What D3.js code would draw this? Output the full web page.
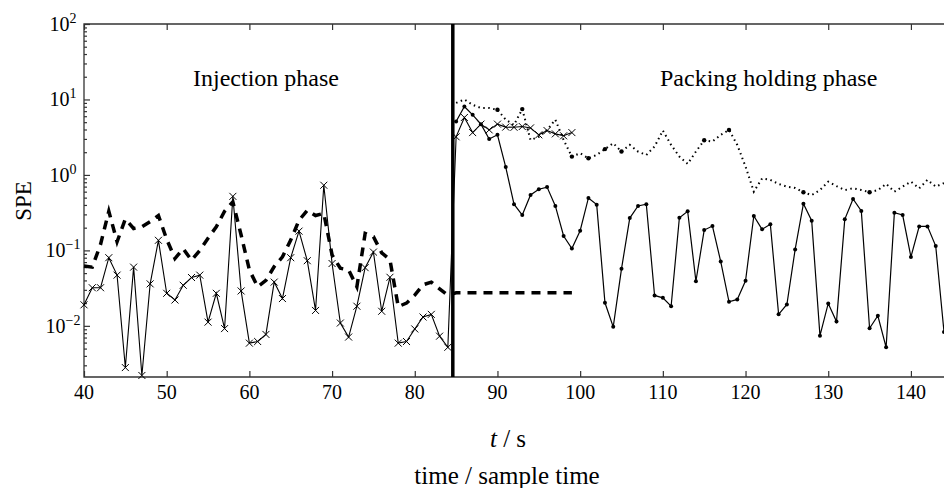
<!DOCTYPE html>
<html>
<head>
<meta charset="utf-8">
<script src="https://cdn.jsdelivr.net/npm/d3@7"></script>
<style>
  body { margin: 0; background: #fff; }
  svg text { font-family: "Liberation Serif", "Times New Roman", serif; fill: #000; }
</style>
</head>
<body>
<svg id="chart" width="944" height="488"></svg>
<script>
// sample times
let packTimes = d3.range(85, 145);
let crossTimes = d3.range(40, 100);
let dashTimes = d3.range(40, 100);

// SPE with x markers (injection phase + start of packing)
let speCross = [0.019, 0.032, 0.032, 0.080, 0.047, 0.0028, 0.060, 0.0022, 0.036, 0.136,
  0.027, 0.022, 0.0345, 0.0437, 0.047, 0.0112, 0.027, 0.0092, 0.52, 0.029,
  0.0059, 0.0062, 0.0077, 0.038, 0.023, 0.080, 0.18, 0.073, 0.016, 0.73,
  0.067, 0.0109, 0.0071, 0.0182, 0.059, 0.095, 0.0156, 0.044, 0.0059, 0.0062,
  0.0091, 0.0131, 0.0142, 0.0073, 0.0052,
  3.2, 5.77, 3.64, 4.71, 3.95, 4.71, 4.3, 4.28, 4.38, 4.2, 3.4, 3.87, 3.5, 3.3, 3.64];

// control limit (thick dashed)
let limitDashed = [0.062, 0.060, 0.12, 0.33, 0.13, 0.26, 0.195, 0.205, 0.24, 0.29,
  0.14, 0.078, 0.105, 0.074, 0.10, 0.145, 0.205, 0.33, 0.44, 0.16,
  0.055, 0.033, 0.04, 0.061, 0.082, 0.137, 0.25, 0.34, 0.29, 0.31,
  0.087, 0.058, 0.055, 0.033, 0.168, 0.152, 0.093, 0.075, 0.018, 0.020,
  0.0255, 0.035, 0.038, 0.031, 0.0255,
  0.0274, 0.0274, 0.0274, 0.0274, 0.0274, 0.0274, 0.0274, 0.0274, 0.0274, 0.0274,
  0.0274, 0.0274, 0.0274, 0.0274, 0.0274];

// SPE with dot markers (packing holding phase)
let speDots = [5.1, 8.06, 6.25, 4.71, 3.0, 3.4, 1.27, 0.41, 0.294, 0.543,
  0.646, 0.69, 0.388, 0.155, 0.106, 0.182, 0.495, 0.404, 0.0202, 0.0097,
  0.057, 0.268, 0.388, 0.41, 0.0253, 0.0235, 0.0182, 0.271, 0.33, 0.039,
  0.186, 0.21, 0.071, 0.0208, 0.0224, 0.0396, 0.286, 0.19, 0.222, 0.0142,
  0.0192, 0.103, 0.416, 0.247, 0.0074, 0.0198, 0.0114, 0.258, 0.48, 0.333,
  0.0093, 0.0136, 0.0052, 0.316, 0.294, 0.082, 0.208, 0.208, 0.114, 0.0083];

// control limit (dotted) for packing holding phase
let limitDotted = [9.0, 10.0, 8.5, 7.7, 7.7, 7.3, 5.4, 4.6, 7.45, 2.9,
  3.2, 3.95, 5.4, 2.9, 1.75, 1.94, 1.66, 1.84, 2.2, 2.63,
  2.04, 2.5, 2.04, 1.84, 2.38, 3.87, 2.5, 1.75, 1.4, 2.04,
  2.88, 2.77, 3.4, 3.95, 2.5, 1.29, 0.6, 0.9, 0.86, 0.76,
  0.7, 0.67, 0.59, 0.54, 0.63, 0.815, 0.71, 0.63, 0.665, 0.63,
  0.59, 0.63, 0.76, 0.6, 0.7, 0.815, 0.665, 0.86, 0.7, 0.78];
let dottedMarkTimes = [90, 93, 99, 101, 103, 105, 115, 118, 127, 135];

let phaseSwitch = 84.6;
let xTicks = [40, 50, 60, 70, 80, 90, 100, 110, 120, 130, 140];
let yTickExp = [2, 1, 0, -1, -2];

let svg = d3.select('#chart');
let width = 944, height = 488;
let mLeft = 84, mTop = 24, mBottom = 377;

let x = d3.scaleLinear().domain([40, 144]).range([mLeft, width]);
let y = d3.scaleLog().domain([0.0021, 100]).range([mBottom, mTop]);

svg.append('rect').attr('width', width).attr('height', height).attr('fill', '#fff');

// minor y ticks
let minorVals = [];
[-3, -2, -1, 0, 1].forEach((e) => {
  for (let m = 2; m <= 9; m++) {
    let v = m * Math.pow(10, e);
    if (v >= 0.0021 && v <= 100) minorVals.push(v);
  }
});

svg.append('g')
  .attr('transform', 'translate(' + mLeft + ',0)')
  .call(d3.axisLeft(y).tickValues(minorVals).tickSize(-3).tickFormat(''))
  .call((g) => g.select('.domain').remove());

svg.append('g')
  .attr('transform', 'translate(' + mLeft + ',0)')
  .call(d3.axisLeft(y).tickValues(yTickExp.map((e) => Math.pow(10, e))).tickSize(-6).tickFormat(''))
  .call((g) => g.select('.domain').remove());

// x ticks bottom and top, pointing inward
svg.append('g')
  .attr('transform', 'translate(0,' + mBottom + ')')
  .call(d3.axisBottom(x).tickValues(xTicks).tickSize(-6).tickFormat(''))
  .call((g) => g.select('.domain').remove());

svg.append('g')
  .attr('transform', 'translate(0,' + mTop + ')')
  .call(d3.axisTop(x).tickValues(xTicks).tickSize(-6).tickFormat(''))
  .call((g) => g.select('.domain').remove());

svg.selectAll('.tick line').attr('stroke', '#333').attr('stroke-width', 1.2);

// frame
svg.append('path')
  .attr('d', 'M' + width + ',' + mTop + 'H' + mLeft + 'V' + mBottom + 'H' + width)
  .attr('fill', 'none')
  .attr('stroke', '#333')
  .attr('stroke-width', 1.3);

// tick labels
svg.append('g')
  .selectAll('text')
  .data(xTicks)
  .enter()
  .append('text')
  .attr('x', (d) => x(d))
  .attr('y', mBottom + 22)
  .attr('text-anchor', 'middle')
  .attr('font-size', 20)
  .text((d) => d);

let yLab = svg.append('g')
  .selectAll('text')
  .data(yTickExp)
  .enter()
  .append('text')
  .attr('x', 63)
  .attr('y', (d) => y(Math.pow(10, d)) + 7)
  .attr('text-anchor', 'middle')
  .attr('font-size', 20);
yLab.append('tspan').text('10');
yLab.append('tspan')
  .attr('font-size', 14)
  .attr('dy', -8)
  .text((d) => (d < 0 ? '\u2212' + (-d) : d));

let plot = svg.append('g');

let lineGen = (times) => d3.line()
  .x((d, i) => x(times[i]))
  .y((d) => y(d));

// thick dashed limit
plot.append('path')
  .datum(limitDashed)
  .attr('d', lineGen(dashTimes))
  .attr('fill', 'none')
  .attr('stroke', '#000')
  .attr('stroke-width', 3.5)
  .attr('stroke-dasharray', '9,7');

// dotted limit
plot.append('path')
  .datum(limitDotted)
  .attr('d', lineGen(packTimes))
  .attr('fill', 'none')
  .attr('stroke', '#000')
  .attr('stroke-width', 2)
  .attr('stroke-dasharray', '1.5,3.5');

plot.selectAll('.dotmark')
  .data(dottedMarkTimes)
  .enter()
  .append('circle')
  .attr('cx', (t) => x(t))
  .attr('cy', (t) => y(limitDotted[packTimes.indexOf(t)]))
  .attr('r', 2.2)
  .attr('fill', '#000');

// SPE with dots
plot.append('path')
  .datum(speDots)
  .attr('d', lineGen(packTimes))
  .attr('fill', 'none')
  .attr('stroke', '#000')
  .attr('stroke-width', 1.2);

plot.selectAll('.spedot')
  .data(speDots)
  .enter()
  .append('circle')
  .attr('cx', (d, i) => x(packTimes[i]))
  .attr('cy', (d) => y(d))
  .attr('r', 2)
  .attr('fill', '#000');

// SPE with crosses
plot.append('path')
  .datum(speCross)
  .attr('d', lineGen(crossTimes))
  .attr('fill', 'none')
  .attr('stroke', '#000')
  .attr('stroke-width', 1.1);

plot.selectAll('.cross')
  .data(speCross)
  .enter()
  .append('path')
  .attr('transform', (d, i) => 'translate(' + x(crossTimes[i]) + ',' + y(d) + ')')
  .attr('d', 'M-3.5,-3.5L3.5,3.5M-3.5,3.5L3.5,-3.5')
  .attr('stroke', '#000')
  .attr('stroke-width', 1);

// phase separator
svg.append('line')
  .attr('x1', x(phaseSwitch)).attr('x2', x(phaseSwitch))
  .attr('y1', mTop).attr('y2', mBottom)
  .attr('stroke', '#000')
  .attr('stroke-width', 3.5);

// labels
svg.append('text')
  .attr('x', 193).attr('y', 86)
  .attr('font-size', 24)
  .text('Injection phase');

svg.append('text')
  .attr('x', 660).attr('y', 86)
  .attr('font-size', 24)
  .text('Packing holding phase');

svg.append('text')
  .attr('transform', 'translate(31,201) rotate(-90)')
  .attr('text-anchor', 'middle')
  .attr('font-size', 23)
  .text('SPE');

let tLab = svg.append('text')
  .attr('x', 508).attr('y', 447)
  .attr('text-anchor', 'middle')
  .attr('font-size', 25);
tLab.append('tspan').attr('font-style', 'italic').text('t');
tLab.append('tspan').text(' / s');

svg.append('text')
  .attr('x', 507).attr('y', 484)
  .attr('text-anchor', 'middle')
  .attr('font-size', 25)
  .text('time / sample time');
</script>
</body>
</html>
